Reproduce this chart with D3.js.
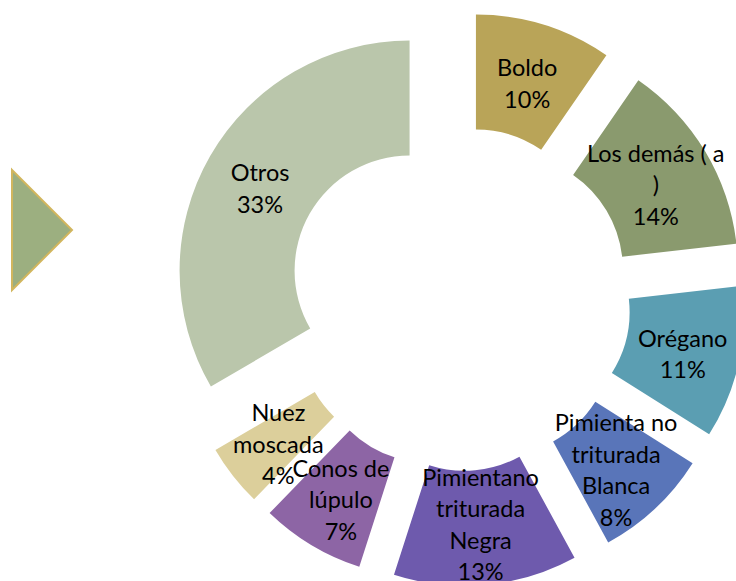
<!DOCTYPE html>
<html>
<head>
<meta charset="utf-8">
<script src="https://cdn.jsdelivr.net/npm/d3@7"></script>
<style>
  body { margin: 0; background: #fff; }
  svg { display: block; }
</style>
</head>
<body>
<svg id="chart"></svg>
<script>
var categories = ["Boldo", "Los demás ( a )", "Orégano", "Pimienta no triturada Blanca",
                  "Pimienta no triturada Negra", "Conos de lúpulo", "Nuez moscada", "Otros"];
// shares (labels show them rounded)
var shares = [9.6, 13.6, 10.75, 8.1, 12.9, 7.3, 4.35, 33.4];
var labelLines = [
  ["Boldo"],
  ["Los demás ( a", ")"],
  ["Orégano"],
  ["Pimienta no", "triturada", "Blanca"],
  ["Pimientano", "triturada", "Negra"],
  ["Conos de", "lúpulo"],
  ["Nuez", "moscada"],
  ["Otros"]
];
var colors = ["#b9a458", "#8a9a6e", "#5b9eb2", "#5975b9", "#6e5aad", "#8d65a5", "#dccf9b", "#bac6ab"];

var width = 736;
var height = 581;
var cx = 459, cy = 299;
var outerR = 230, innerR = 115;
var explode = 57;
var lineH = 31.5;
var bottomLimit = height - 13; // labels are pushed up to stay inside the chart

var svg = d3.select("#chart")
            .attr("width", width)
            .attr("height", height);

// legend-ish triangle at the left
svg.append("path")
   .attr("d", "M12,170 L72,230 L12,290 Z")
   .attr("fill", "#9caf80")
   .attr("stroke", "#d2b65e")
   .attr("stroke-width", 2);

var pie = d3.pie().sort(null).value(function(d){ return d; });
var arc = d3.arc().innerRadius(innerR).outerRadius(outerR);
var arcs = pie(shares);

var shift = function(d){
  var a = (d.startAngle + d.endAngle) / 2;
  return [Math.sin(a) * explode, -Math.cos(a) * explode];
};

var g = svg.append("g").attr("transform", "translate(" + cx + "," + cy + ")");

var slice = g.selectAll(".slice")
             .data(arcs)
             .enter()
             .append("g")
             .attr("class", "slice")
             .attr("transform", function(d){
               var s = shift(d);
               return "translate(" + s[0] + "," + s[1] + ")";
             });

slice.append("path")
     .attr("d", arc)
     .attr("fill", function(d, i){ return colors[i]; });

slice.append("text")
     .attr("text-anchor", "middle")
     .attr("font-family", "Lato, 'Open Sans', sans-serif")
     .attr("font-size", "23.5px")
     .attr("fill", "#000")
     .each(function(d, i){
       var lines = labelLines[i].concat([Math.round(shares[i]) + "%"]);
       var c = arc.centroid(d);
       var s = shift(d);
       var y0 = -(lines.length - 1) * lineH / 2;
       var lastAbs = cy + s[1] + c[1] + y0 + (lines.length - 1) * lineH;
       var up = Math.max(0, lastAbs - bottomLimit);
       var t = d3.select(this)
                 .attr("transform", "translate(" + c[0] + "," + (c[1] - up) + ")");
       lines.forEach(function(l, k){
         t.append("tspan")
          .attr("x", 0)
          .attr("y", y0 + k * lineH)
          .attr("dy", "0.52em")
          .text(l);
       });
     });
</script>
</body>
</html>
